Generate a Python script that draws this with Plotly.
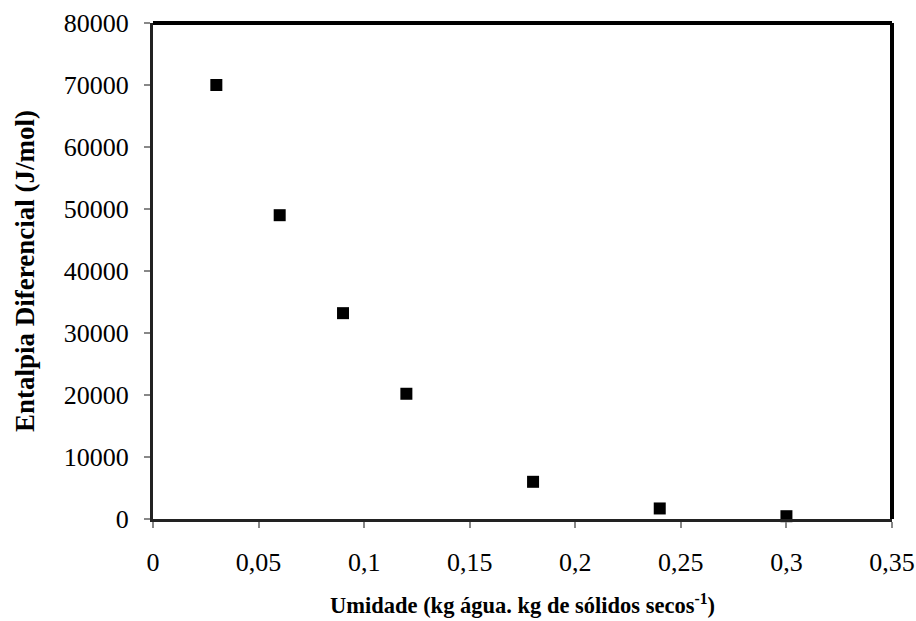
import plotly.graph_objects as go

# Moisture content (kg water / kg dry solids) and differential enthalpy (J/mol)
umidade = [0.03, 0.06, 0.09, 0.12, 0.18, 0.24, 0.30]
entalpia = [70000, 49000, 33200, 20200, 6000, 1700, 450]

x_tickvals = [0, 0.05, 0.1, 0.15, 0.2, 0.25, 0.3, 0.35]
x_ticktext = ["0", "0,05", "0,1", "0,15", "0,2", "0,25", "0,3", "0,35"]
y_tickvals = [0, 10000, 20000, 30000, 40000, 50000, 60000, 70000, 80000]
y_ticktext = ["0", "10000", "20000", "30000", "40000", "50000", "60000", "70000", "80000"]

x_title = "<b>Umidade (kg água. kg de sólidos secos<sup>-1</sup>)</b>"
y_title = "<b>Entalpia Diferencial (J/mol)</b>"

font_family = "Liberation Serif, Times New Roman, serif"

fig = go.Figure()
fig.add_trace(go.Scatter(
    x=umidade, y=entalpia, mode="markers",
    marker=dict(symbol="square", size=12, color="black"),
    cliponaxis=False, showlegend=False,
))

fig.update_layout(
    width=916, height=621,
    margin=dict(l=153, r=24, t=23, b=102),
    paper_bgcolor="white", plot_bgcolor="white",
    font=dict(family=font_family, color="black", size=26),
    separators=",.",
    xaxis=dict(
        range=[0, 0.35], tickvals=x_tickvals, ticktext=x_ticktext,
        showgrid=False, zeroline=False, automargin=False,
        showline=True, linecolor="#222", linewidth=3,
        ticks="outside", ticklen=6, tickcolor="#888", tickwidth=2,
        ticklabelstandoff=12,
        tickfont=dict(size=26),
    ),
    yaxis=dict(
        range=[0, 80000], tickvals=y_tickvals, ticktext=y_ticktext,
        showgrid=False, zeroline=False, automargin=False,
        showline=True, linecolor="#222", linewidth=3,
        ticks="outside", ticklen=6, tickcolor="#888", tickwidth=2,
        ticklabelstandoff=10,
        tickfont=dict(size=26),
    ),
)

# Axis titles
fig.add_annotation(text=x_title, xref="paper", yref="paper", x=0.5, y=0,
                   xanchor="center", yanchor="middle", yshift=-85,
                   showarrow=False, font=dict(size=22.5))
fig.add_annotation(text=y_title, xref="paper", yref="paper", x=0, y=0.5,
                   xanchor="center", yanchor="middle", xshift=-128,
                   textangle=-90, showarrow=False, font=dict(size=27))

# Heavy frame on the top and right edges of the plot area
fig.add_shape(type="line", xref="paper", yref="paper", x0=0, x1=1, y0=1, y1=1,
              line=dict(color="black", width=4))
fig.add_shape(type="line", xref="paper", yref="paper", x0=1, x1=1, y0=0, y1=1,
              line=dict(color="black", width=4))

fig.write_html("out.html")
